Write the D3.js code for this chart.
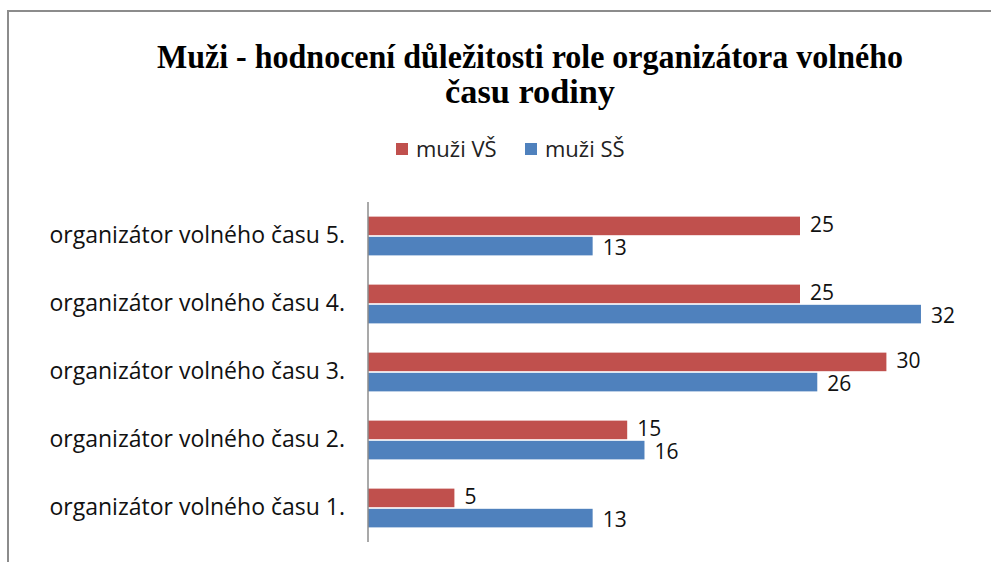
<!DOCTYPE html>
<html>
<head>
<meta charset="utf-8">
<script src="https://cdn.jsdelivr.net/npm/d3@7"></script>
<style>
  html, body { margin: 0; padding: 0; background: #fff; }
  svg { display: block; }
</style>
</head>
<body>
<svg id="chart" width="991" height="562"></svg>
<script>
// Category labels (drawn top to bottom)
const categories = [
  "organizátor volného času 5.",
  "organizátor volného času 4.",
  "organizátor volného času 3.",
  "organizátor volného času 2.",
  "organizátor volného času 1."
];
const seriesNames = ["muži VŠ", "muži SŠ"];
const valuesVS = [25, 25, 30, 15, 5];
const valuesSS = [13, 32, 26, 16, 13];
const seriesColors = ["#C0504D", "#4F81BD"];
const titleLines = ["Muži - hodnocení důležitosti role organizátora volného", "času rodiny"];

const svg = d3.select("#chart");
const labelFont = "'Open Sans', 'Noto Sans', sans-serif";

// Chart frame
svg.append("path")
  .attr("d", "M8,562 L8,11 L991,11")
  .attr("fill", "none")
  .attr("stroke", "#8c8c8c")
  .attr("stroke-width", 2);

// Title (condensed bold serif)
const titleWidths = [746, 170];
svg.selectAll("text.title")
  .data(titleLines)
  .join("text")
  .attr("class", "title")
  .attr("x", 530)
  .attr("y", (d, i) => 68 + i * 35)
  .attr("text-anchor", "middle")
  .attr("font-family", "'Liberation Serif', 'Times New Roman', serif")
  .attr("font-weight", "bold")
  .attr("font-size", 34)
  .attr("textLength", (d, i) => titleWidths[i])
  .attr("lengthAdjust", "spacingAndGlyphs")
  .attr("fill", "#000")
  .text(d => d);

// Legend
const legendX = [396, 525];
const legend = svg.selectAll("g.legend")
  .data(seriesNames)
  .join("g")
  .attr("class", "legend")
  .attr("transform", (d, i) => `translate(${legendX[i]},143)`);
legend.append("rect")
  .attr("width", 12).attr("height", 12)
  .attr("fill", (d, i) => seriesColors[i]);
legend.append("text")
  .attr("x", 20).attr("y", 14)
  .attr("font-family", labelFont)
  .attr("font-size", 22)
  .attr("fill", "#222")
  .text(d => d);

// Scales
const plotLeft = 368, plotTop = 202, plotBottom = 542;
const x = d3.scaleLinear().domain([0, 35]).range([plotLeft, plotLeft + 35 * 17.28]);
const y = d3.scaleBand().domain(categories).range([plotTop, plotBottom]).paddingInner(0.43).paddingOuter(0.215);
const sub = d3.scaleBand().domain(seriesNames).range([0, y.bandwidth()]).paddingInner(0.08);

const rows = categories.map((c, i) => ({ cat: c, vals: [valuesVS[i], valuesSS[i]] }));

const groups = svg.selectAll("g.row")
  .data(rows)
  .join("g")
  .attr("class", "row")
  .attr("transform", d => `translate(0,${y(d.cat)})`);

groups.selectAll("rect")
  .data(d => d.vals.map((v, i) => ({ name: seriesNames[i], v, i })))
  .join("rect")
  .attr("x", x(0))
  .attr("y", d => sub(d.name))
  .attr("width", d => x(d.v) - x(0))
  .attr("height", sub.bandwidth())
  .attr("fill", d => seriesColors[d.i]);

groups.selectAll("text.val")
  .data(d => d.vals.map((v, i) => ({ name: seriesNames[i], v, i })))
  .join("text")
  .attr("class", "val")
  .attr("x", d => x(d.v) + 10)
  .attr("y", d => sub(d.name) + sub.bandwidth() / 2 + (d.i === 0 ? -1 : 1))
  .attr("dy", "0.36em")
  .attr("font-family", labelFont)
  .attr("font-size", 21)
  .attr("fill", "#111")
  .text(d => d.v);

// Vertical category axis
const yAxis = d3.axisLeft(y).tickSize(0).tickPadding(23);
const gy = svg.append("g")
  .attr("transform", `translate(${plotLeft},0)`)
  .call(yAxis);
gy.select(".domain").attr("stroke", "#8c8c8c").attr("stroke-width", 1.5)
  .attr("d", `M0,${plotTop}V${plotBottom}`);
gy.selectAll("text")
  .attr("font-family", labelFont)
  .attr("font-size", 23)
  .attr("fill", "#111");
</script>
</body>
</html>
